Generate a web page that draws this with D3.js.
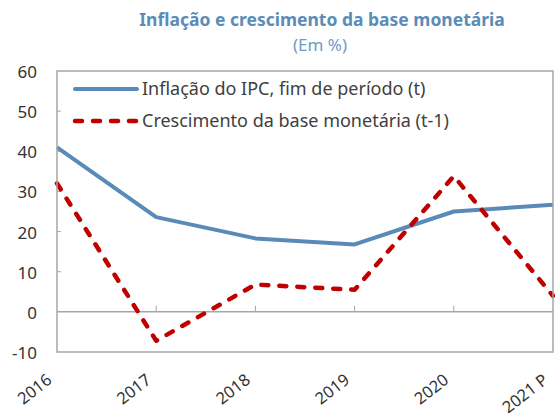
<!DOCTYPE html>
<html>
<head>
<meta charset="utf-8">
<script src="https://cdn.jsdelivr.net/npm/d3@7"></script>
<style>
  body { margin: 0; background: #fff; }
  svg { display: block; font-family: "Noto Sans", sans-serif; }
</style>
</head>
<body>
<svg width="555" height="413"></svg>
<script>
// Data
const years = ["2016", "2017", "2018", "2019", "2020", "2021 P"];
const inflation = [41.0, 23.6, 18.3, 16.8, 25.0, 26.7];
const baseGrowth = [32.0, -7.2, 6.8, 5.5, 33.8, 4.0];
const yTicks = [-10, 0, 10, 20, 30, 40, 50, 60];

const series = [
    { name: "Inflação do IPC, fim de período (t)", values: inflation, color: "#5a8ab7", dash: null },
    { name: "Crescimento da base monetária (t-1)", values: baseGrowth, color: "#c00000", dash: "7,11" },
];

const svg = d3.select("svg");
const margin = { top: 71, right: 2, bottom: 61, left: 57 };
const width = 555 - margin.left - margin.right;
const height = 413 - margin.top - margin.bottom;

const x = d3.scalePoint().domain(years).range([0, width]);
const y = d3.scaleLinear().domain([-10, 60]).range([height, 0]);

// Title
svg.append("text")
    .attr("x", 322).attr("y", 26)
    .attr("text-anchor", "middle")
    .attr("font-size", 17.5).attr("font-weight", "bold")
    .attr("fill", "#5b8cb8")
    .text("Inflação e crescimento da base monetária");
svg.append("text")
    .attr("x", 320).attr("y", 51)
    .attr("text-anchor", "middle")
    .attr("font-size", 17)
    .attr("fill", "#6f9bc4")
    .text("(Em %)");

const g = svg.append("g").attr("transform", `translate(${margin.left},${margin.top})`);

// Y axis labels and small inner ticks
g.selectAll("text.ylab")
    .data(yTicks)
    .enter()
    .append("text")
    .classed("ylab", true)
    .attr("x", -20)
    .attr("y", (d) => y(d) + 1)
    .attr("dy", "0.35em")
    .attr("text-anchor", "end")
    .attr("font-size", 17)
    .attr("fill", "#333")
    .text((d) => d);
g.selectAll("line.ytick")
    .data(yTicks.filter((d) => d !== 0 && d !== -10 && d !== 60))
    .enter()
    .append("line")
    .classed("ytick", true)
    .attr("x1", 0).attr("x2", 4)
    .attr("y1", (d) => y(d)).attr("y2", (d) => y(d))
    .attr("stroke", "#a6a6a6");

// Zero line with category ticks
g.append("line")
    .attr("x1", 0).attr("x2", width)
    .attr("y1", y(0)).attr("y2", y(0))
    .attr("stroke", "#a6a6a6").attr("stroke-width", 1.5);
g.selectAll("line.xtick")
    .data(years.slice(1, -1))
    .enter()
    .append("line")
    .classed("xtick", true)
    .attr("x1", (d) => x(d)).attr("x2", (d) => x(d))
    .attr("y1", y(0)).attr("y2", y(0) - 6)
    .attr("stroke", "#a6a6a6");

// X labels, rotated, below the frame
g.selectAll("text.xlab")
    .data(years)
    .enter()
    .append("text")
    .classed("xlab", true)
    .attr("transform", (d) => `translate(${x(d) - 4},${height + 30}) rotate(-38)`)
    .attr("text-anchor", "end")
    .attr("font-size", 16.5)
    .attr("fill", "#333")
    .text((d) => d);

// Lines
const line = d3.line()
    .x((d, i) => x(years[i]))
    .y((d) => y(d));

g.selectAll("path.series")
    .data(series)
    .enter()
    .append("path")
    .classed("series", true)
    .attr("d", (s) => line(s.values))
    .attr("fill", "none")
    .attr("stroke", (s) => s.color)
    .attr("stroke-width", (s) => (s.dash ? 4.5 : 4))
    .attr("stroke-dasharray", (s) => s.dash)
    .attr("stroke-linecap", (s) => (s.dash ? "round" : "butt"))
    .attr("stroke-linejoin", "round");

// Frame
g.append("rect")
    .attr("x", 0).attr("y", 0)
    .attr("width", width).attr("height", height)
    .attr("fill", "none")
    .attr("stroke", "#a6a6a6").attr("stroke-width", 1.5);

// Legend
const legend = g.selectAll("g.legend")
    .data(series)
    .enter()
    .append("g")
    .classed("legend", true)
    .attr("transform", (d, i) => `translate(18,${18 + i * 32})`);
legend.append("line")
    .attr("x1", 0).attr("x2", 62)
    .attr("stroke", (s) => s.color)
    .attr("stroke-width", (s) => (s.dash ? 4.5 : 4))
    .attr("stroke-dasharray", (s) => s.dash)
    .attr("stroke-linecap", "round");
legend.append("text")
    .attr("x", 67)
    .attr("dy", "0.35em")
    .attr("font-size", 18)
    .attr("fill", "#404040")
    .text((s) => s.name);
</script>
</body>
</html>
